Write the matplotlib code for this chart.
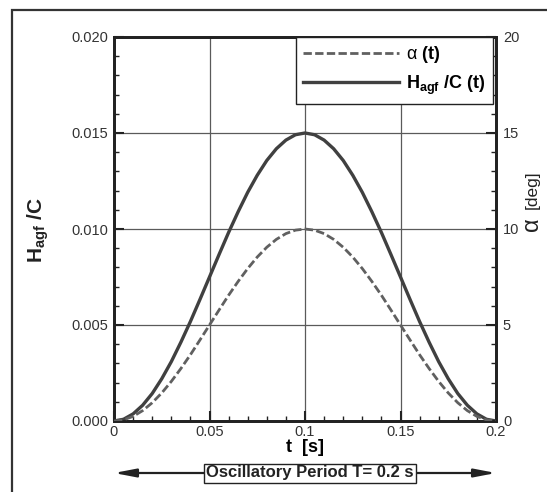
import matplotlib
matplotlib.use('Agg')
import matplotlib.pyplot as plt
from matplotlib.lines import Line2D
from matplotlib.patches import Rectangle
from matplotlib.ticker import MultipleLocator, FormatStrFormatter

plt.rcParams['font.family'] = ['Liberation Sans', 'DejaVu Sans']
plt.rcParams['mathtext.fontset'] = 'custom'
plt.rcParams['mathtext.rm'] = 'Liberation Sans'
plt.rcParams['mathtext.bf'] = 'Liberation Sans:bold'
plt.rcParams['mathtext.it'] = 'Liberation Sans:italic'

# values (t step 0.005 s)
t = [0.000, 0.005, 0.010, 0.015, 0.020, 0.025, 0.030, 0.035, 0.040, 0.045,
     0.050, 0.055, 0.060, 0.065, 0.070, 0.075, 0.080, 0.085, 0.090, 0.095,
     0.100, 0.105, 0.110, 0.115, 0.120, 0.125, 0.130, 0.135, 0.140, 0.145,
     0.150, 0.155, 0.160, 0.165, 0.170, 0.175, 0.180, 0.185, 0.190, 0.195,
     0.200]
alpha = [0.00, 0.06, 0.24, 0.54, 0.95, 1.46, 2.06, 2.73, 3.45, 4.22,
         5.00, 5.78, 6.55, 7.27, 7.94, 8.54, 9.05, 9.46, 9.76, 9.94,
         10.00, 9.94, 9.76, 9.46, 9.05, 8.54, 7.94, 7.27, 6.55, 5.78,
         5.00, 4.22, 3.45, 2.73, 2.06, 1.46, 0.95, 0.54, 0.24, 0.06,
         0.00]
h_c = [0.0, 0.00009, 0.00037, 0.00082, 0.00143, 0.00220, 0.00309, 0.00410, 0.00518, 0.00633,
       0.00750, 0.00867, 0.00982, 0.01090, 0.01191, 0.01280, 0.01357, 0.01418, 0.01463, 0.01491,
       0.01500, 0.01491, 0.01463, 0.01418, 0.01357, 0.01280, 0.01191, 0.01090, 0.00982, 0.00867,
       0.00750, 0.00633, 0.00518, 0.00410, 0.00309, 0.00220, 0.00143, 0.00082, 0.00037, 0.00009,
       0.0]

xticks = [0, 0.05, 0.1, 0.15, 0.2]
xticklabels = ['0', '0.05', '0.1', '0.15', '0.2']

W, H = 547, 492
fig = plt.figure(figsize=(W/100, H/100), dpi=100)
ax = fig.add_axes([114/W, 1-421/H, 382/W, 384/H])
ax2 = ax.twinx()

col_h = '#404040'
col_a = '#606060'
ax.plot(t, h_c, color=col_h, lw=2.4, zorder=3)
ax2.plot(t, alpha, color=col_a, lw=2.0, dashes=(3, 1.2), zorder=3)

ax.set_xlim(0, 0.2)
ax.set_ylim(0, 0.02)
ax2.set_ylim(0, 20)
ax.set_xticks(xticks)
ax.set_xticklabels(xticklabels)
ax.xaxis.set_minor_locator(MultipleLocator(0.01))
ax.yaxis.set_major_locator(MultipleLocator(0.005))
ax.yaxis.set_minor_locator(MultipleLocator(0.001))
ax.yaxis.set_major_formatter(FormatStrFormatter('%.3f'))
ax2.yaxis.set_major_locator(MultipleLocator(5))
ax2.yaxis.set_minor_locator(MultipleLocator(1))

ax.grid(True, which='major', color='#5a5a5a', lw=0.9)
for a in (ax, ax2):
    a.tick_params(which='major', direction='in', length=7.5, width=1.5,
                  color='#222222', labelsize=10.5, labelcolor='#333333')
    a.tick_params(which='minor', direction='in', length=3.8, width=1.0, color='#222222')
    for s in a.spines.values():
        s.set_linewidth(2.0)
        s.set_color('#222222')
ax.tick_params(axis='y', which='both', right=False, pad=4)
ax.tick_params(axis='x', which='both', top=False, pad=3)
ax2.tick_params(axis='y', pad=5)

ax.set_xlabel('t  [s]', fontsize=13, fontweight='bold', labelpad=0)
fig.text(38/W, 1-230/H, r'H$_{\mathbf{agf}}$ /C', rotation=90, fontsize=15,
         fontweight='bold', ha='center', va='center', color='#222222')
fig.text(532/W, 1-224/H, 'α', rotation=90, fontsize=17, ha='center', va='center',
         color='#222222')
fig.text(532/W, 1-190/H, '[deg]', rotation=90, fontsize=12.5, ha='center',
         va='center', color='#222222')

handles = [Line2D([], [], color=col_a, lw=2.0, dashes=(3, 1.2)),
           Line2D([], [], color=col_h, lw=2.4)]
labels = [r'α $\mathbf{(t)}$', r'$\mathbf{H_{agf}}$ $\mathbf{/C\ (t)}$']
leg = ax2.legend(handles, labels, loc='upper right', bbox_to_anchor=(0.992, 1.0),
                 borderaxespad=0, fancybox=False, framealpha=1, edgecolor='#222222',
                 handlelength=5.3, handletextpad=0.4, fontsize=13, borderpad=0.4,
                 labelspacing=0.45)
leg.get_frame().set_linewidth(1.0)

# period arrow below the axes
y_ar = 1 - 473/H
ax.annotate('', xy=(114/W, y_ar), xytext=(496/W, y_ar), xycoords='figure fraction',
            arrowprops=dict(arrowstyle='<|-|>,head_length=1.3,head_width=0.25',
                            color='#222222', lw=1.6, shrinkA=0, shrinkB=0))
fig.text(310/W, y_ar, 'Oscillatory Period T= 0.2 s', fontsize=12, fontweight='bold',
         ha='center', va='center', color='#222222',
         bbox=dict(boxstyle='square,pad=0.12', fc='white', ec='#222222', lw=1.0))

# outer frame
fig.patches.append(Rectangle((12/W, -0.1), 1.2, 1.1 - 10/H, transform=fig.transFigure,
                             fill=False, ec='#333333', lw=1.6))

fig.savefig('out.png', dpi=100)
